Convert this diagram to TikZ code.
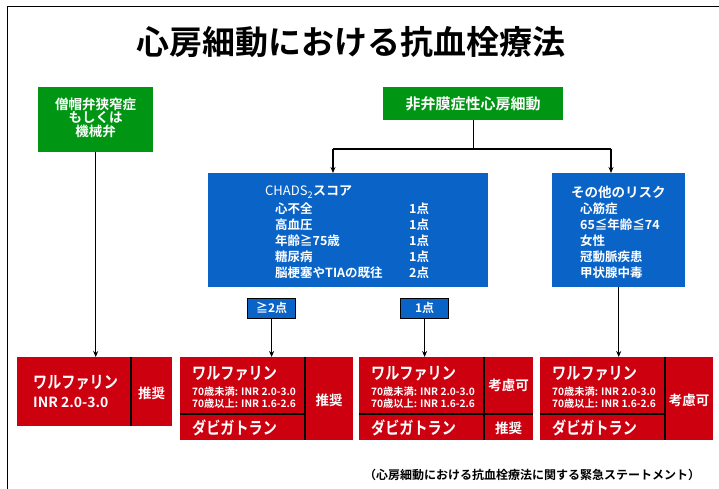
\documentclass[tikz,border=0pt]{standalone}
\usepackage{fontspec}
\setmainfont{Noto Sans CJK JP}[BoldFont={Noto Sans CJK JP Bold}]
\usetikzlibrary{arrows.meta}
\definecolor{ggreen}{RGB}{0,150,20}
\definecolor{bblue}{RGB}{10,100,200}
\definecolor{rred}{RGB}{205,0,15}
\newcommand{\fs}[1]{\fontsize{#1}{#1}\selectfont\bfseries}
\newcommand{\narrow}[1]{\scalebox{0.83}[1]{#1}}
\tikzset{
  greenbox/.style={fill=ggreen, text=white, inner sep=0, anchor=north west, align=center, font=\fs{13.5}},
  bluebox/.style={fill=bblue, inner sep=0, anchor=north west},
  redbox/.style={fill=rred, inner sep=0, anchor=north west},
  lab/.style={fill=bblue, draw=black, line width=1.2pt, text=white, inner sep=0, anchor=north west, font=\fs{12}},
  wt/.style={text=white, inner sep=0, anchor=west},
  conn/.style={line width=1.1pt, black},
  arr/.style={conn, -{Stealth[length=6pt,width=5pt]}},
  divider/.style={line width=2pt, black}
}
\begin{document}
\begin{tikzpicture}[x=1pt,y=-1pt]
\useasboundingbox (0,0) rectangle (719,489);
\fill[white] (0,0) rectangle (719,489);
\draw[line width=1pt] (7,489) -- (7,7) -- (719,7);
\node[font=\fs{33}, inner sep=0] (title) at (351,42) {心房細動における抗血栓療法};

% green boxes
\node[greenbox, minimum width=115pt, minimum height=65pt] (g1) at (38,87) {};
\node[wt, anchor=center, font=\fs{13.5}] (g1a) at (95.5,104) {僧帽弁狭窄症};
\node[wt, anchor=center, font=\fs{13.5}] (g1b) at (95.5,117.5) {もしくは};
\node[wt, anchor=center, font=\fs{13.5}] (g1c) at (95.5,131) {機械弁};
\node[greenbox, minimum width=180pt, minimum height=33pt] (g2) at (383,87) {};
\node[wt, anchor=center, font=\fs{15}] (g2t) at (473,103.5) {非弁膜症性心房細動};

% blue boxes
\node[bluebox, minimum width=280pt, minimum height=114pt] (chads) at (208,173) {};
\node[wt, font=\fontsize{13}{13}\selectfont] (c0) at (265,192) {CHADS\textsubscript{2}\textbf{スコア}};
\node[wt, font=\fs{12.5}] (c1) at (275,208.5) {心不全};
\node[wt, font=\fs{12.5}] (c2) at (275,224.5) {高血圧};
\node[wt, font=\fs{12.5}] (c3) at (275,240.5) {年齢≧75歳};
\node[wt, font=\fs{12.5}] (c4) at (275,257) {糖尿病};
\node[wt, font=\fs{12.5}] (c5) at (275,273) {脳梗塞やTIAの既往};
\node[wt, font=\fs{12.5}] (p1) at (409,208.5) {1点};
\node[wt, font=\fs{12.5}] (p2) at (409,224.5) {1点};
\node[wt, font=\fs{12.5}] (p3) at (409,240.5) {1点};
\node[wt, font=\fs{12.5}] (p4) at (409,257) {1点};
\node[wt, font=\fs{12.5}] (p5) at (409,273) {2点};

\node[bluebox, minimum width=133pt, minimum height=114pt] (other) at (552,173) {};
\node[wt, font=\fs{13.5}] (o0) at (571,192) {その他のリスク};
\node[wt, font=\fs{12.5}] (o1) at (580,208.5) {心筋症};
\node[wt, font=\fs{12.5}] (o2) at (580,224.5) {65≦年齢≦74};
\node[wt, font=\fs{12.5}] (o3) at (580,240.5) {女性};
\node[wt, font=\fs{12.5}] (o4) at (580,257) {冠動脈疾患};
\node[wt, font=\fs{12.5}] (o5) at (580,273) {甲状腺中毒};

% score labels
\node[lab, minimum width=48pt, minimum height=20pt] (l2) at (247,297.5) {≧2点};
\node[lab, minimum width=48pt, minimum height=20pt] (l1) at (400,297.5) {1点};

% red boxes
\node[redbox, minimum width=155pt, minimum height=69pt] (r1) at (17,357) {};
\node[wt, font=\fs{17}] (r1a) at (33,382.5) {\narrow{ワルファリン}};
\node[wt, font=\fs{14}] (r1b) at (33,402.5) {INR 2.0-3.0};
\node[wt, anchor=center, font=\fs{13.5}] (r1c) at (151.5,393) {推奨};
\draw[divider] (131,357) -- (131,426);

\node[redbox, minimum width=173pt, minimum height=83pt] (r2) at (180,357) {};
\node[wt, font=\fs{17}] (r2a) at (192,374) {\narrow{ワルファリン}};
\node[wt, font=\fs{10.2}] (r2b) at (192,391.5) {70歳未満: INR 2.0-3.0};
\node[wt, font=\fs{10.2}] (r2c) at (192,403.5) {70歳以上: INR 1.6-2.6};
\node[wt, font=\fs{17}] (r2d) at (192,427.5) {\narrow{ダビガトラン}};
\node[wt, anchor=center, font=\fs{13.5}] (r2e) at (329,400) {推奨};
\draw[divider] (305,357) -- (305,440);
\draw[divider] (180,414) -- (305,414);

\node[redbox, minimum width=174pt, minimum height=83pt] (r3) at (359,357) {};
\node[wt, font=\fs{17}] (r3a) at (371,374) {\narrow{ワルファリン}};
\node[wt, font=\fs{10.2}] (r3b) at (371,391.5) {70歳未満: INR 2.0-3.0};
\node[wt, font=\fs{10.2}] (r3c) at (371,403.5) {70歳以上: INR 1.6-2.6};
\node[wt, font=\fs{17}] (r3d) at (371,427.5) {\narrow{ダビガトラン}};
\node[wt, anchor=center, font=\fs{13.5}] (r3e) at (508.5,385) {考慮可};
\node[wt, anchor=center, font=\fs{13.5}] (r3f) at (508.5,428.5) {推奨};
\draw[divider] (484,357) -- (484,440);
\draw[divider] (359,413.5) -- (533,413.5);

\node[redbox, minimum width=173pt, minimum height=83pt] (r4) at (540,357) {};
\node[wt, font=\fs{17}] (r4a) at (552,374) {\narrow{ワルファリン}};
\node[wt, font=\fs{10.2}] (r4b) at (552,391.5) {70歳未満: INR 2.0-3.0};
\node[wt, font=\fs{10.2}] (r4c) at (552,403.5) {70歳以上: INR 1.6-2.6};
\node[wt, font=\fs{17}] (r4d) at (552,427.5) {\narrow{ダビガトラン}};
\node[wt, anchor=center, font=\fs{13.5}] (r4e) at (689,400) {考慮可};
\draw[divider] (665,357) -- (665,440);
\draw[divider] (540,413.5) -- (665,413.5);

% connectors
\coordinate (jl) at (333,149);
\coordinate (jr) at (611,149);
\draw[conn] (g2.south) -- (g2.south |- jl);
\draw[conn] (jl) -- (jr);
\draw[arr] (jl) -- (jl |- chads.north);
\draw[arr] (jr) -- (jr |- other.north);
\draw[arr] (g1.south) -- (g1.south |- r1.north);
\draw[arr] (l2.south) -- (l2.south |- r2.north);
\draw[arr] (l1.south) -- (l1.south |- r3.north);
\draw[arr] (other.south) -- (other.south |- r4.north);

% footer
\node[font=\fs{12}, inner sep=0] (foot) at (532,475) {（心房細動における抗血栓療法に関する緊急ステートメント）};
\end{tikzpicture}
\end{document}
